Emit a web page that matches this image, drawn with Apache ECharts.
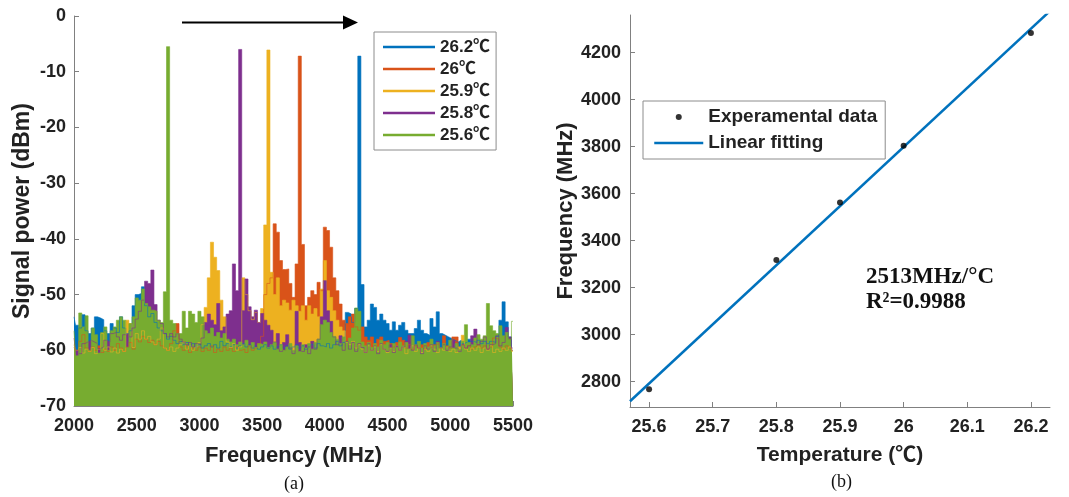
<!DOCTYPE html>
<html lang="en">
<head>
    <meta charset="UTF-8">
    <title>Spectrum vs temperature</title>
    <script src="https://cdn.jsdelivr.net/npm/echarts@6.0.0/dist/echarts.min.js"></script>
    <style>
        html, body { margin: 0; padding: 0; background: #fff; }
        #main { width: 1069px; height: 497px; }
    </style>
</head>
<body>
<div id="main"></div>
<script>
    // (a) spectra, one value every 25 MHz from 2000 to 5500 MHz (dBm)
    var freqStart = 2000, freqStep = 25;
    var seriesNames = ['26.2℃', '26℃', '25.9℃', '25.8℃', '25.6℃'];
    var seriesColors = ['#0072BD', '#D95319', '#EDB120', '#7E2F8E', '#77AC30'];

    var p262 = [
        -54, -55.5, -56, -53.6, -56.5, -57, -56, -54, -54.2, -54.5,
        -56.5, -57, -55.2, -56, -56.8, -54, -56, -57, -56.5, -52,
        -50, -49.8, -48.6, -52, -54, -53.4, -55, -56, -56.5, -57,
        -58, -57.5, -58.2, -58.8, -58.4, -59, -58.6, -59.2, -58.8, -59.4,
        -59, -59.6, -59.2, -58.8, -59.4, -59, -59.6, -58.4, -59.2, -58.8,
        -59.4, -59, -59.6, -59.2, -58.8, -59.4, -59, -59.6, -59.2, -59.8,
        -59.4, -59, -59.6, -59.2, -59.8, -59.4, -59, -59.6, -59.2, -59.8,
        -59.4, -59, -59.6, -59.2, -59.8, -59.4, -59, -59.6, -58.8, -59.2,
        -59.4, -58.8, -59.6, -59, -58.4, -59.2, -58.6, -53.2, -53.5, -55,
        -52.5, -7.2, -48.2, -55.8, -54.6, -51.7, -52.3, -54.6, -53.5, -54.6,
        -55.2, -56.4, -54.9, -56.4, -55.5, -55, -56.4, -57, -57, -56.1,
        -54.6, -56.4, -57, -57.3, -54.3, -55.8, -53.1, -57, -57.3, -57.6,
        -57.9, -58.2, -58.5, -58.2, -58.8, -58.5, -58, -58.4, -58.6, -58.2,
        -58.8, -58.4, -58.8, -58.4, -58.6, -57.5, -54.6, -51.3, -54.9, -57.6, -60
    ];
    var p260 = [
        -59.5, -60, -58.4, -57.2, -59.6, -60.2, -59.4, -60, -59.2, -60.4,
        -59.8, -60.2, -59.4, -60, -58.8, -59.6, -60.2, -59.4, -58.6, -59.8,
        -58, -58.5, -57.5, -58, -58.6, -58.2, -59, -58.4, -59.2, -59.6,
        -60, -58.8, -56.5, -55.2, -59.4, -60, -59.2, -60.4, -59.6, -60,
        -59.4, -60.2, -59.6, -60, -59.2, -60.4, -59.8, -60.2, -59.4, -60,
        -59.6, -60.2, -59.4, -60, -59.8, -60.4, -59.2, -60, -59.6, -58.8,
        -57.5, -50, -48, -47, -37.3, -38.8, -43.9, -45.5, -45.4, -48,
        -50.5, -44.5, -7.2, -41, -52, -50.5, -49.3, -50, -47.8, -49.3,
        -37.9, -38.5, -41.5, -47, -49.3, -51.7, -54.6, -55.2, -54, -53.5,
        -55.8, -56.4, -55.8, -57.6, -58.2, -57.6, -58.8, -58, -57.6, -58.4,
        -58.2, -58.8, -59.4, -58.6, -57.7, -58.2, -59.6, -59, -59.8, -59.2,
        -59.6, -59, -59.8, -58.6, -59.4, -59, -58.8, -59.6, -57.4, -59.2,
        -59.6, -57.6, -57.6, -59.4, -59, -59.6, -59.2, -59.8, -59.4, -59,
        -59.6, -59.2, -59.8, -59.4, -57.8, -58, -59.4, -59.8, -59.2, -59.6, -60
    ];
    var p259 = [
        -59, -60, -59.5, -60.5, -59.8, -60.2, -59.5, -60.6, -59.8, -57,
        -60, -59.4, -60.3, -59.6, -60.5, -59.8, -60.2, -54.6, -55.2, -59.5,
        -57, -58, -56.5, -58, -57.5, -58.5, -59, -58, -56, -59.6,
        -60, -59.4, -60.2, -59.6, -59, -58.5, -59.8, -59.2, -60, -59.4,
        -58.6, -55.4, -52.3, -47, -40.6, -43.3, -45.7, -51, -54, -58.5,
        -59.5, -58.8, -60, -59.4, -47, -50, -52.9, -54.5, -53.2, -55,
        -52.5, -37.5, -6.1, -46, -50, -47, -52, -51, -51.5, -52.8,
        -51, -52, -53, -52, -54.6, -52, -53.5, -52.5, -54, -49,
        -43.9, -49.3, -50.5, -52.9, -54.6, -55.8, -56.5, -58.6, -59, -58.4,
        -59.6, -59, -59.8, -60.4, -59.2, -60, -59.4, -60.2, -59, -59.8,
        -60.4, -59.6, -60.2, -59.2, -60, -59.4, -60.6, -59.8, -59.2, -60.2,
        -59.6, -60.4, -59.8, -60.2, -59.2, -59.8, -60.4, -59.6, -60, -59.4,
        -60.2, -59.8, -60.4, -59.4, -57.3, -59.8, -60.2, -59.6, -60, -59.4,
        -60.4, -59.6, -60, -59.2, -60.4, -59.8, -60.2, -59.6, -60, -59.4, -60.2
    ];
    var p258 = [
        -57.8, -60, -60.6, -58.8, -58.5, -58.2, -58.5, -58.8, -59.7, -59.4,
        -58.2, -58.5, -57, -56.8, -57.6, -58.2, -57.2, -57, -57.6, -56,
        -54.4, -53, -51, -47.6, -48, -45.6, -51.8, -54.6, -55.2, -57,
        -57.6, -57, -57.6, -57, -58, -58.5, -59, -58.6, -59.4, -58.8,
        -59, -57.8, -55, -53.5, -54.6, -55.4, -51.6, -56.5, -55.8, -53.5,
        -52.9, -44.5, -49.3, -6, -52.9, -47.2, -52.2, -54, -52.8, -55,
        -53.4, -54.6, -55.5, -56.4, -58.5, -57, -60.2, -58.6, -57.2, -59.6,
        -60.6, -53, -58.6, -60.2, -59, -60.6, -58.4, -59.8, -58, -54,
        -47.5, -52.9, -54.8, -57.6, -59, -57.4, -60, -58.4, -59.8, -58.6,
        -60.2, -58.8, -59.5, -60.4, -58.8, -60, -59.2, -60.6, -58.8, -59.8,
        -60.2, -59, -60.4, -59.2, -60, -59.4, -58.4, -57.3, -60, -59,
        -59.6, -60.6, -59.2, -59.8, -59, -60.2, -58.4, -59.6, -59, -60,
        -59.4, -58.2, -59.6, -60.2, -59, -59.6, -59.2, -57.4, -56.2, -59,
        -58.4, -57.6, -59.8, -59, -58.8, -57.4, -59.2, -58.6, -55.9, -57.6, -59.6
    ];
    var p256 = [
        -56.5, -61, -53.3, -55.8, -53.8, -60, -56, -57.2, -60.5, -56.8,
        -55.8, -60, -56.5, -55.8, -54.6, -54, -54.6, -59.5, -55.2, -54,
        -50.6, -51, -49, -51.6, -52.2, -52.8, -53, -54.6, -55, -49.5,
        -5.5, -54.6, -55.2, -57, -57, -53, -56, -53, -53.5, -55,
        -53, -54, -56.5, -57, -56, -57.5, -56.8, -57.8, -57, -58,
        -58.5, -58, -59, -58.5, -59, -58.2, -59.2, -58.6, -59.5, -58.8,
        -59, -58.5, -59.5, -59, -58.6, -59.8, -59, -60, -59.4, -58.8,
        -60, -59.2, -60.2, -59, -59.6, -58.8, -59.8, -58.6, -58, -55.4,
        -54.6, -55, -56.8, -57.5, -58, -58.8, -57.6, -58.5, -57.8, -56,
        -52.4, -53, -58.5, -59.2, -58.6, -59.5, -58.8, -59.4, -58.2, -59,
        -58.6, -59.6, -58.8, -59.5, -58.5, -59.2, -58.6, -59.8, -57.4, -59,
        -58.4, -59.6, -58.8, -59.4, -58, -59.2, -58.6, -59.6, -58.8, -59.4,
        -58.2, -59.6, -58.8, -59.8, -58.4, -55.4, -58.6, -59, -57.8, -57.2,
        -58, -57.4, -51.6, -55.6, -56.5, -57, -55.6, -57.4, -56.8, -58, -54.8
    ];
    var spectra = [p262, p260, p259, p258, p256];

    // (b) peak frequency against temperature
    var temps = [25.6, 25.8, 25.9, 26.0, 26.2];
    var peakFreqs = [2768, 3317, 3562, 3804, 4283];
    var tempMin = 25.57, tempMax = 26.23;

    function toPairs(vals) {
        return vals.map(function (v, i) { return [freqStart + i * freqStep, v]; });
    }

    // least squares fit of the measured points
    var n = temps.length, mx = 0, my = 0, sxx = 0, sxy = 0;
    temps.forEach(function (t, i) { mx += t / n; my += peakFreqs[i] / n; });
    temps.forEach(function (t, i) { sxx += (t - mx) * (t - mx); sxy += (t - mx) * (peakFreqs[i] - my); });
    var slope = sxy / sxx, icpt = my - slope * mx;
    var fitLine = [[tempMin, icpt + slope * tempMin], [tempMax, icpt + slope * tempMax]];

    var sans = '"Liberation Sans", Arial, "Noto Sans CJK SC", sans-serif';
    var serif = '"Liberation Serif", "Times New Roman", serif';
    var axisGray = '#808080';
    var ink = '#222';

    function plain(v) { return String(v); }

    function valueAxis(extra) {
        var base = {
            type: 'value',
            axisLine: { show: true, onZero: false, lineStyle: { color: axisGray, width: 1 } },
            axisTick: { show: true, inside: true, length: 5, lineStyle: { color: axisGray } },
            axisLabel: { fontSize: 18, fontWeight: 'bold', color: ink, fontFamily: sans, margin: 11, formatter: plain },
            splitLine: { show: false },
            nameLocation: 'middle',
            nameTextStyle: { fontWeight: 'bold', color: ink, fontFamily: sans }
        };
        return Object.assign(base, extra);
    }

    var series = spectra.map(function (vals, i) {
        return {
            name: seriesNames[i],
            type: 'line',
            xAxisIndex: 0,
            yAxisIndex: 0,
            step: 'middle',
            symbol: 'none',
            silent: true,
            data: toPairs(vals),
            lineStyle: { color: seriesColors[i], width: 0.6 },
            itemStyle: { color: seriesColors[i] },
            areaStyle: { origin: 'start', color: seriesColors[i], opacity: 1 }
        };
    });
    series.push({
        name: 'Experamental data',
        type: 'scatter',
        xAxisIndex: 1,
        yAxisIndex: 1,
        symbolSize: 6,
        itemStyle: { color: '#000' },
        data: temps.map(function (t, i) { return [t, peakFreqs[i]]; }),
        z: 3
    });
    series.push({
        name: 'Linear fitting',
        type: 'line',
        xAxisIndex: 1,
        yAxisIndex: 1,
        symbol: 'none',
        lineStyle: { color: '#0072BD', width: 2.5 },
        itemStyle: { color: '#0072BD' },
        data: fitLine,
        z: 2
    });

    var myChart = echarts.init(document.getElementById('main'), null, { renderer: 'canvas' });
    var option = {
        animation: false,
        backgroundColor: '#fff',
        grid: [
            { left: 74, top: 16, width: 439, height: 390 },
            { left: 630, top: 15, width: 420, height: 392 }
        ],
        xAxis: [
            valueAxis({ gridIndex: 0, min: 2000, max: 5500, interval: 500,
                name: 'Frequency (MHz)', nameGap: 39,
                nameTextStyle: { fontSize: 22, fontWeight: 'bold', color: ink, fontFamily: sans } }),
            valueAxis({ gridIndex: 1, min: tempMin, max: tempMax, splitNumber: 7,
                minInterval: 0.1, maxInterval: 0.1,
                name: 'Temperature (℃)', nameGap: 38,
                nameTextStyle: { fontSize: 21, fontWeight: 'bold', color: ink, fontFamily: sans },
                axisLabel: { fontSize: 18, fontWeight: 'bold', color: ink, fontFamily: sans, margin: 11,
                    formatter: plain, showMinLabel: false, showMaxLabel: false } })
        ],
        yAxis: [
            valueAxis({ gridIndex: 0, min: -70, max: 0, interval: 10,
                name: 'Signal power (dBm)', nameGap: 40,
                nameTextStyle: { fontSize: 23, fontWeight: 'bold', color: ink, fontFamily: sans },
                axisLabel: { fontSize: 18, fontWeight: 'bold', color: ink, fontFamily: sans, margin: 8, formatter: plain } }),
            valueAxis({ gridIndex: 1, min: 2692, max: 4360, splitNumber: 8,
                minInterval: 200, maxInterval: 200,
                name: 'Frequency (MHz)', nameGap: 52,
                nameTextStyle: { fontSize: 22, fontWeight: 'bold', color: ink, fontFamily: sans },
                axisLabel: { fontSize: 18, fontWeight: 'bold', color: ink, fontFamily: sans, margin: 9,
                    formatter: plain, showMinLabel: false, showMaxLabel: false } })
        ],
        legend: [
            {
                data: seriesNames,
                orient: 'vertical',
                left: 374,
                top: 32,
                icon: 'rect',
                itemWidth: 52,
                itemHeight: 2.5,
                itemGap: 0,
                padding: [4, 6, 4, 9],
                borderColor: '#8c8c8c',
                borderWidth: 1,
                selectedMode: false,
                textStyle: { fontSize: 17, fontWeight: 'bold', color: ink, fontFamily: sans, lineHeight: 22 }
            },
            {
                data: [
                    { name: 'Experamental data', icon: 'circle' },
                    { name: 'Linear fitting', itemStyle: { opacity: 0 } }
                ],
                orient: 'vertical',
                left: 643,
                top: 101,
                itemWidth: 49,
                itemHeight: 6,
                itemGap: 0,
                padding: [3, 8, 3, 10],
                borderColor: '#8c8c8c',
                borderWidth: 1,
                selectedMode: false,
                lineStyle: { width: 2.5 },
                textStyle: { fontSize: 19, fontWeight: 'bold', color: ink, fontFamily: sans, lineHeight: 26 }
            }
        ],
        graphic: [
            // arrow over the spectra
            { type: 'line', shape: { x1: 182, y1: 22.5, x2: 346, y2: 22.5 },
              style: { stroke: '#000', lineWidth: 2 } },
            { type: 'polygon', shape: { points: [[343, 15.5], [358, 22.5], [343, 29.5]] },
              style: { fill: '#000' } },
            // fit annotation
            { type: 'text', left: 866, top: 266,
              style: { text: '2513MHz/°C', font: 'bold 23px ' + serif, fill: '#111' } },
            { type: 'text', left: 866, top: 291,
              style: { text: 'R²=0.9988', font: 'bold 23px ' + serif, fill: '#111' } },
            // panel captions
            { type: 'text', left: 284, top: 475, style: { text: '(a)', font: '18px ' + serif, fill: '#111' } },
            { type: 'text', left: 831, top: 473, style: { text: '(b)', font: '18px ' + serif, fill: '#111' } }
        ],
        series: series
    };
    myChart.setOption(option);
</script>
</body>
</html>
